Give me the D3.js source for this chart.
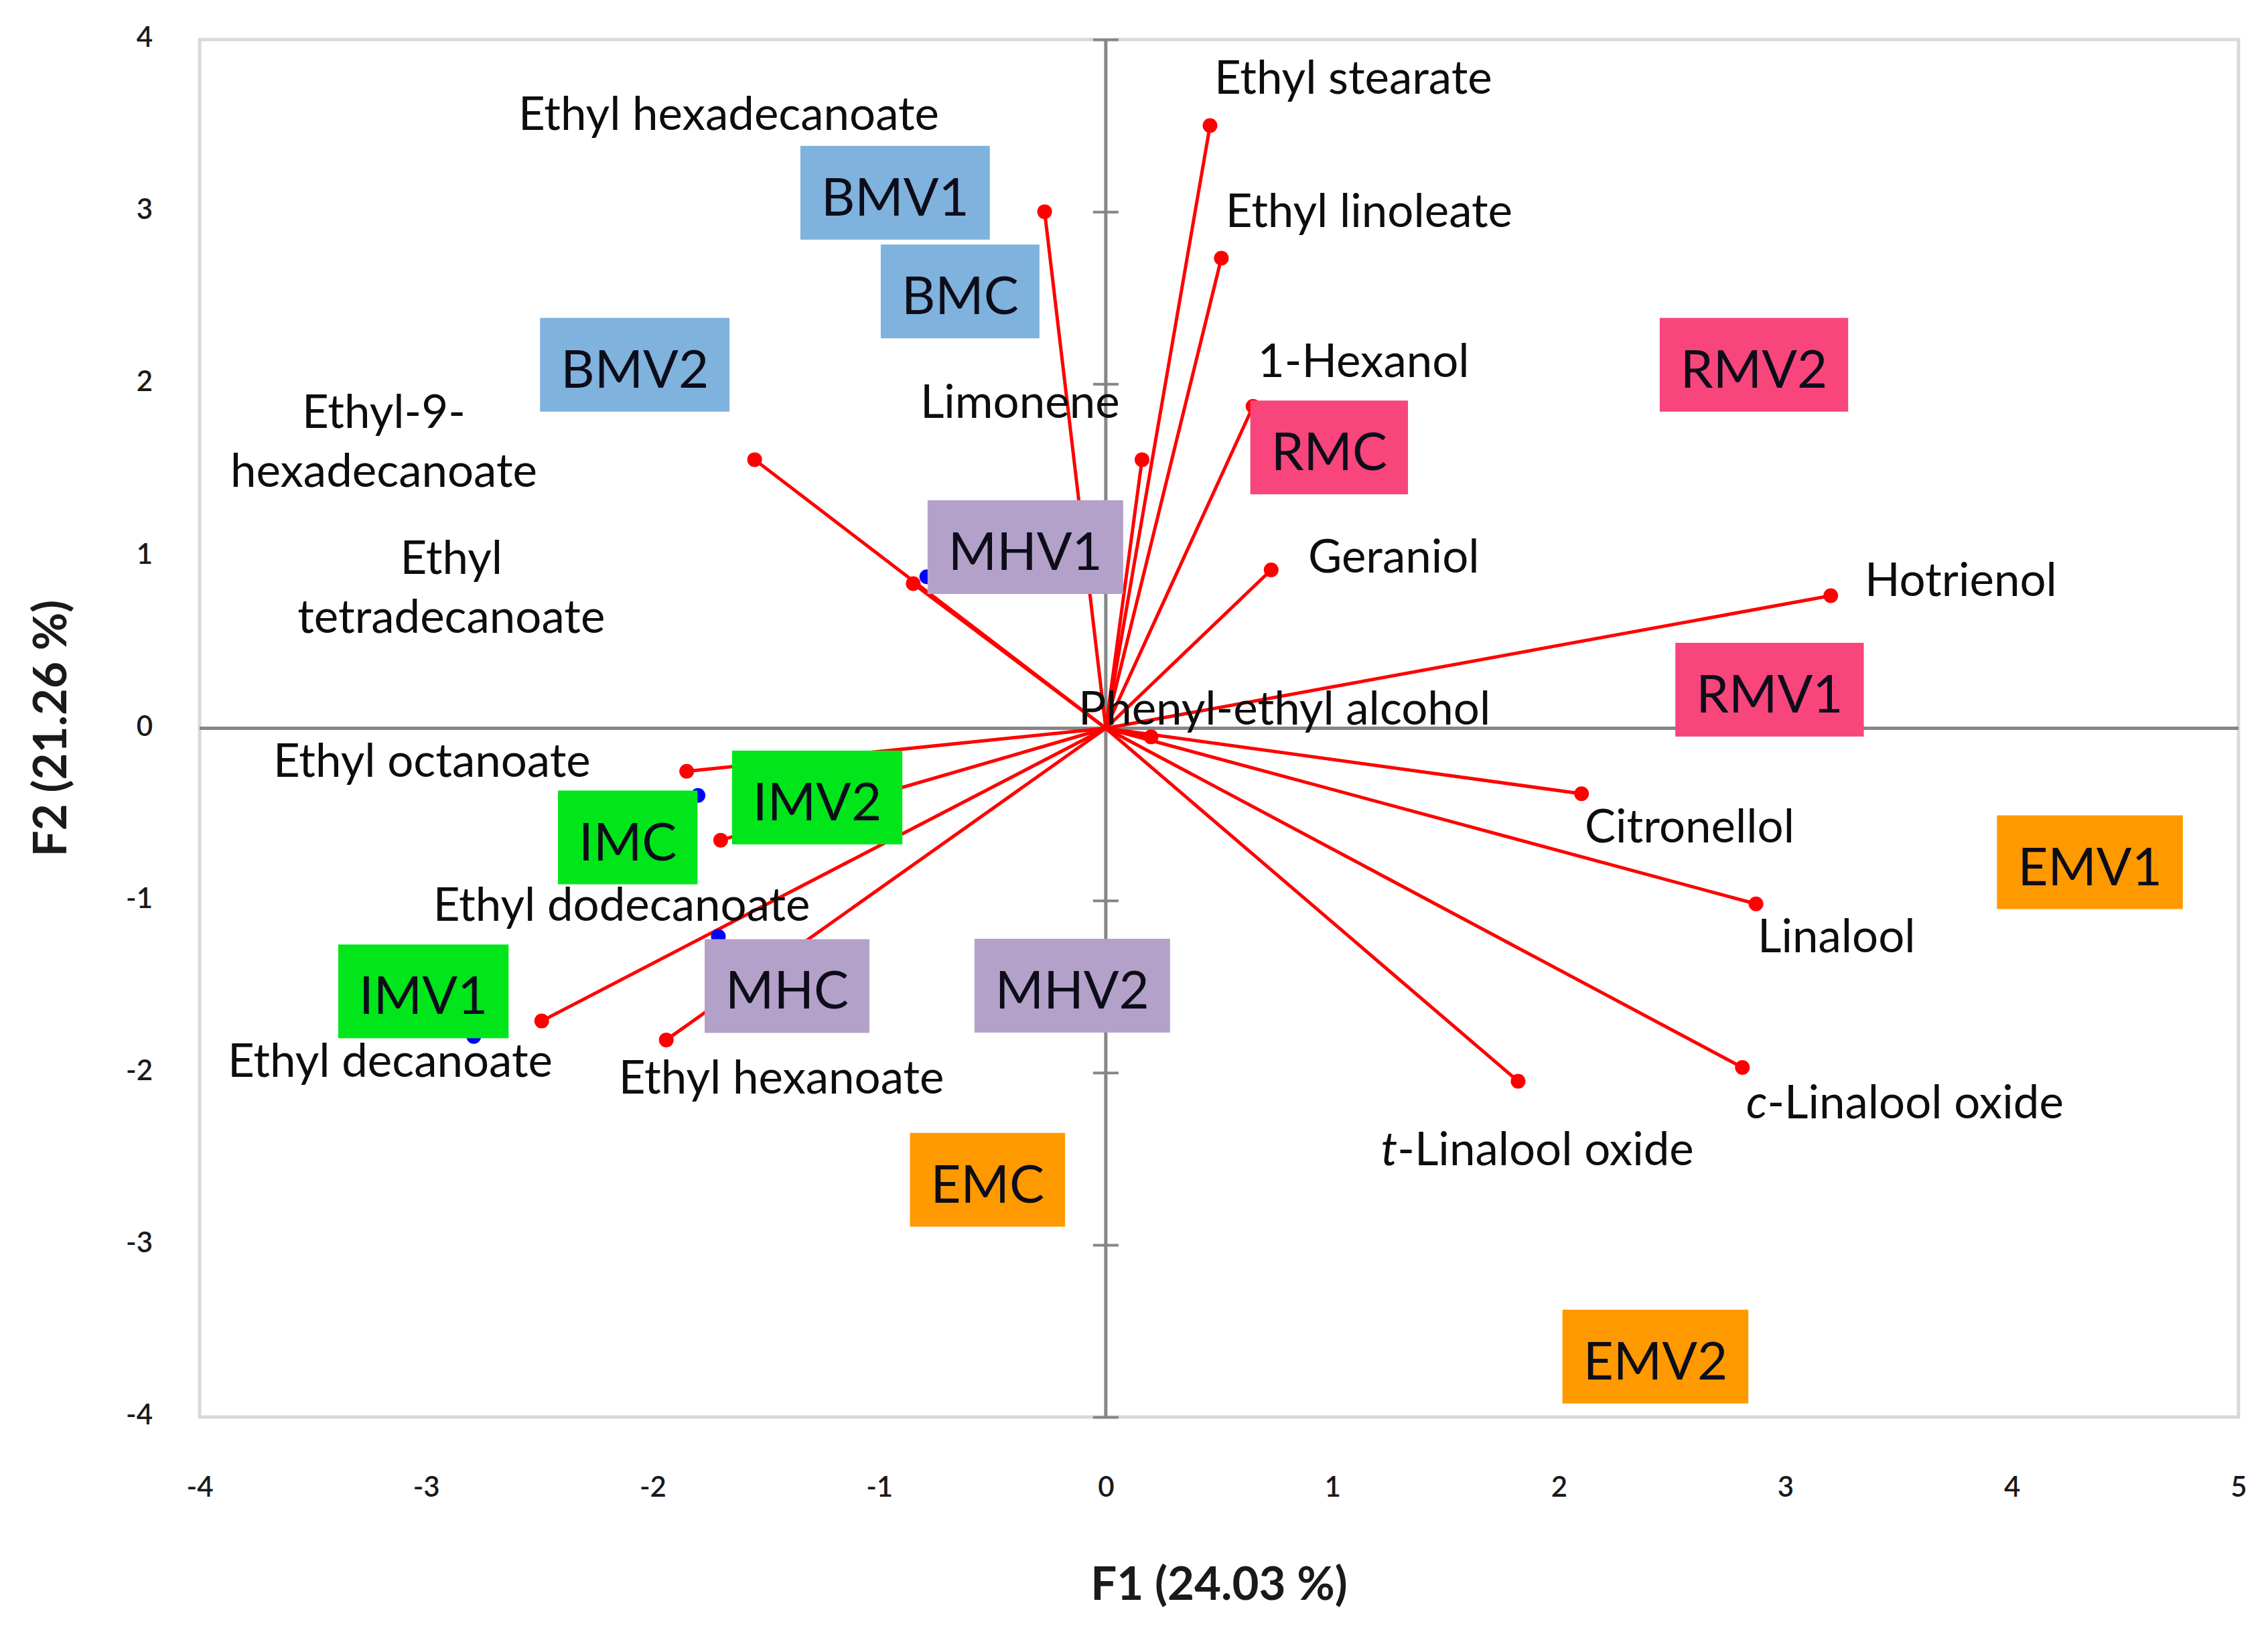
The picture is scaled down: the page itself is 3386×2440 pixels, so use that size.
<!DOCTYPE html>
<html>
<head>
<meta charset="utf-8">
<script src="https://cdn.jsdelivr.net/npm/d3@7"></script>
<style>
  html, body { margin: 0; padding: 0; background: #ffffff; }
  svg { display: block; }
</style>
</head>
<body>
<svg id="chart" width="3386" height="2440"></svg>
<script>
// ---------------- DATA ----------------
const xTicks = [-4, -3, -2, -1, 0, 1, 2, 3, 4, 5];
const yTicks = [-4, -3, -2, -1, 0, 1, 2, 3, 4];
const xTitle = "F1 (24.03 %)";
const yTitle = "F2 (21.26 %)";

// Variables (loadings, red vectors)
const varNames = ["Ethyl hexadecanoate", "Ethyl stearate", "Ethyl linoleate", "1-Hexanol", "Limonene",
  "Ethyl-9-hexadecanoate", "Ethyl tetradecanoate", "Geraniol", "Hotrienol", "Phenyl-ethyl alcohol",
  "Ethyl octanoate", "Ethyl dodecanoate", "Ethyl decanoate", "Ethyl hexanoate", "Citronellol",
  "Linalool", "c-Linalool oxide", "t-Linalool oxide"];
const varF1 = [-0.27, 0.46, 0.51, 0.65, 0.16, -1.55, -0.85, 0.73, 3.20, 0.20, -1.85, -1.70, -2.49, -1.94, 2.10, 2.87, 2.81, 1.82];
const varF2 = [3.00, 3.50, 2.73, 1.87, 1.56, 1.56, 0.84, 0.92, 0.77, -0.05, -0.25, -0.65, -1.70, -1.81, -0.38, -1.02, -1.97, -2.05];

// Variable label texts (line breaks) and label anchor positions in data units
const varLabelLines = [["Ethyl hexadecanoate"], ["Ethyl stearate"], ["Ethyl linoleate"], ["1-Hexanol"], ["Limonene"],
  ["Ethyl-9-", "hexadecanoate"], ["Ethyl", "tetradecanoate"], ["Geraniol"], ["Hotrienol"], ["Phenyl-ethyl alcohol"],
  ["Ethyl octanoate"], ["Ethyl dodecanoate"], ["Ethyl decanoate"], ["Ethyl hexanoate"], ["Citronellol"],
  ["Linalool"], ["c-Linalool oxide"], ["t-Linalool oxide"]];
const varLabelF1 = [-2.593, 0.479, 0.529, 0.671, -0.819, -3.187, -2.889, 0.893, 3.350, -0.121, -3.675, -2.969, -3.876, -2.150, 2.114, 2.877, 2.827, 1.215];
const varLabelF2 = [3.577, 3.787, 3.013, 2.142, 1.905, 1.676, 0.828, 1.007, 0.871, 0.124, -0.179, -1.015, -1.921, -2.018, -0.560, -1.198, -2.162, -2.434];
const varLabelAnchor = ["start", "start", "start", "start", "start", "middle", "middle", "start", "start", "start",
  "start", "start", "start", "start", "start", "start", "start", "start"];

// Observations (blue points, only those visible) and their coloured labels
const obsPtF1 = [-0.79, -1.80, -1.71, -2.79];
const obsPtF2 = [0.88, -0.39, -1.21, -1.79];

const obsNames = ["BMV1", "BMC", "BMV2", "MHV1", "RMC", "RMV2", "RMV1", "EMV1", "EMV2", "EMC", "MHV2", "MHC", "IMV1", "IMC", "IMV2"];
const obsLabelF1 = [-0.93, -0.643, -2.079, -0.355, 0.986, 2.861, 2.930, 4.344, 2.426, -0.522, -0.148, -1.407, -3.012, -2.110, -1.274];
const obsLabelF2 = [3.11, 2.537, 2.111, 1.052, 1.631, 2.111, 0.224, -0.778, -3.649, -2.622, -1.495, -1.497, -1.528, -0.634, -0.402];
const obsGroup = ["B", "B", "B", "MH", "R", "R", "R", "E", "E", "E", "MH", "MH", "I", "I", "I"];
const groupKeys = ["B", "R", "E", "MH", "I"];
const groupColors = ["#7fb2dd", "#f8457c", "#ff9900", "#b4a1c9", "#00e61b"];

// ---------------- CHART ----------------
const plot = { left: 298, right: 3342, top: 59, bottom: 2116 };
const svg = d3.select("#chart");
const FONT = "Lato, 'Open Sans', sans-serif";

const x = d3.scaleLinear().domain([-4, 5]).range([plot.left, plot.right]);
const y = d3.scaleLinear().domain([-4, 4]).range([plot.bottom, plot.top]);
const colorOf = d3.scaleOrdinal().domain(groupKeys).range(groupColors);
const fmt = d => String(d);

// frame
svg.append("rect")
  .attr("x", plot.left).attr("y", plot.top)
  .attr("width", plot.right - plot.left).attr("height", plot.bottom - plot.top)
  .attr("fill", "none").attr("stroke", "#d9d9d9").attr("stroke-width", 5);

// zero axes
svg.append("line")
  .attr("x1", x(-4)).attr("x2", x(5)).attr("y1", y(0)).attr("y2", y(0))
  .attr("stroke", "#868686").attr("stroke-width", 5);
svg.append("line")
  .attr("x1", x(0)).attr("x2", x(0)).attr("y1", y(4)).attr("y2", y(-4))
  .attr("stroke", "#868686").attr("stroke-width", 5);

// ticks on vertical zero axis
const yAxis = d3.axisLeft(y).tickValues(yTicks.filter(v => v !== 0)).tickSize(0).tickFormat("");
const yAxisG = svg.append("g").attr("transform", `translate(${x(0)},0)`).call(yAxis);
yAxisG.select(".domain").remove();
yAxisG.selectAll(".tick").append("line")
  .attr("x1", -19).attr("x2", 19)
  .attr("stroke", "#868686").attr("stroke-width", 4);

// tick labels
const xLab = d3.axisBottom(x).tickValues(xTicks).tickSize(0).tickFormat(fmt);
const xLabG = svg.append("g").attr("transform", `translate(0,${plot.bottom})`).call(xLab);
xLabG.select(".domain").remove();
xLabG.selectAll("text")
  .attr("y", 0).attr("dy", 0)
  .attr("transform", "translate(0,108)")
  .attr("dominant-baseline", "middle")
  .style("font-family", FONT).style("font-size", "42px").style("font-weight", "600").style("fill", "#1a1a1a");

const yLab = d3.axisLeft(y).tickValues(yTicks).tickSize(0).tickFormat(fmt);
const yLabG = svg.append("g").attr("transform", `translate(${plot.left - 70},0)`).call(yLab);
yLabG.select(".domain").remove();
yLabG.selectAll("text")
  .attr("x", 0).attr("dy", 0)
  .attr("dominant-baseline", "middle")
  .style("text-anchor", "end")
  .style("font-family", FONT).style("font-size", "42px").style("font-weight", "600").style("fill", "#1a1a1a");

// axis titles
svg.append("text")
  .attr("x", (x(-4) + x(5)) / 2).attr("y", 2371)
  .attr("text-anchor", "middle").attr("dominant-baseline", "middle")
  .style("font-family", FONT).style("font-weight", "bold").style("font-size", "69px").style("fill", "#1a1a1a")
  .text(xTitle);
svg.append("text")
  .attr("transform", `translate(81,${y(0)}) rotate(-90)`)
  .attr("text-anchor", "middle").attr("dominant-baseline", "middle")
  .style("font-family", FONT).style("font-weight", "bold").style("font-size", "69px").style("fill", "#1a1a1a")
  .text(yTitle);

// vectors
const vars = varNames.map((n, i) => ({ name: n, f1: varF1[i], f2: varF2[i] }));
svg.append("g").selectAll("line").data(vars).join("line")
  .attr("x1", x(0)).attr("y1", y(0))
  .attr("x2", d => x(d.f1)).attr("y2", d => y(d.f2))
  .attr("stroke", "#ff0000").attr("stroke-width", 5);
svg.append("g").selectAll("circle").data(vars).join("circle")
  .attr("cx", d => x(d.f1)).attr("cy", d => y(d.f2)).attr("r", 11)
  .attr("fill", "#ff0000");

// observation points
const obsPts = obsPtF1.map((v, i) => ({ f1: v, f2: obsPtF2[i] }));
svg.append("g").selectAll("circle").data(obsPts).join("circle")
  .attr("cx", d => x(d.f1)).attr("cy", d => y(d.f2)).attr("r", 11)
  .attr("fill", "#0000ff");

// observation label boxes
const obs = obsNames.map((n, i) => ({ name: n, f1: obsLabelF1[i], f2: obsLabelF2[i], g: obsGroup[i] }));
const obsG = svg.append("g").selectAll("g").data(obs).join("g")
  .attr("transform", d => `translate(${x(d.f1)},${y(d.f2)})`);
obsG.append("rect").attr("fill", d => colorOf(d.g));
const boxTexts = obsG.append("text")
  .attr("text-anchor", "middle").attr("dominant-baseline", "central")
  .attr("y", 4)
  .style("font-family", FONT).style("font-size", "78px").style("fill", "#0d0d1a")
  .text(d => d.name);
boxTexts.each(function () {
  const bb = this.getBBox();
  const w = bb.width + 62, h = 140;
  d3.select(this.parentNode).select("rect")
    .attr("x", -w / 2).attr("y", -h / 2).attr("width", w).attr("height", h);
});

// variable labels
const labels = varNames.map((n, i) => ({
  lines: varLabelLines[i], f1: varLabelF1[i], f2: varLabelF2[i], anchor: varLabelAnchor[i]
}));
const LINE_H = 88;
const labG = svg.append("g").selectAll("text").data(labels).join("text")
  .attr("x", d => x(d.f1)).attr("y", d => y(d.f2))
  .attr("text-anchor", d => d.anchor)
  .style("font-family", FONT).style("font-size", "69px").style("fill", "#0d0d0d");
labG.each(function (d) {
  const t = d3.select(this);
  const n = d.lines.length;
  d.lines.forEach((ln, k) => {
    const ts = t.append("tspan")
      .attr("x", x(d.f1))
      .attr("y", y(d.f2) + (k - (n - 1) / 2) * LINE_H)
      .attr("dominant-baseline", "central");
    const m = /^([ct])(-.*)$/.exec(ln);
    if (m) {
      ts.append("tspan").style("font-style", "italic").text(m[1]);
      ts.append("tspan").text(m[2]);
    } else {
      ts.text(ln);
    }
  });
});
</script>
</body>
</html>
